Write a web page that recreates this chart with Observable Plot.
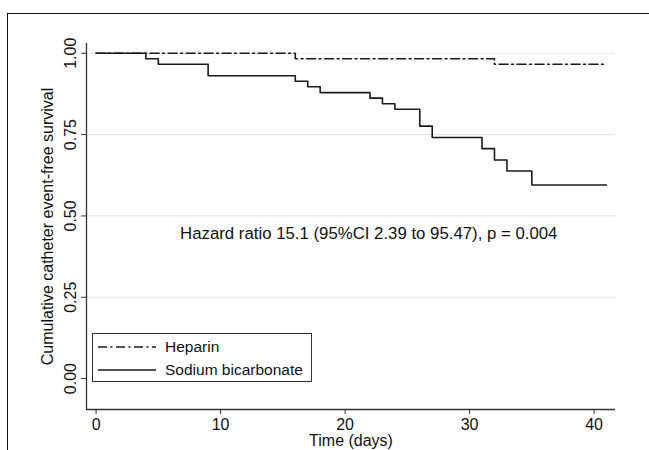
<!DOCTYPE html>
<html>
<head>
<meta charset="utf-8">
<script src="https://cdn.jsdelivr.net/npm/d3@7"></script>
<script src="https://cdn.jsdelivr.net/npm/@observablehq/plot@0.6"></script>
<style>
  html, body { margin: 0; padding: 0; background: #fff; }
  #wrap { position: relative; width: 649px; height: 450px; overflow: hidden; font-family: "Liberation Sans", Arial, sans-serif; }
  #frame { position: absolute; left: 7px; top: 13px; width: 800px; height: 600px; border: 1.5px solid #111; pointer-events: none; }
  #legend { position: absolute; left: 92px; top: 333px; width: 218px; height: 47px; border: 1.3px solid #333; background: #fff; font-size: 15.5px; color: #111; }
  #legend .row { position: absolute; left: 5px; height: 20px; display: flex; align-items: center; }
  #legend .row span { margin-left: 9px; }
  svg.plot { position: absolute; left: 0; top: 0; }
</style>
</head>
<body>
<div id="wrap">
  <div id="chart"></div>
  <div id="legend"></div>
  <div id="frame"></div>
</div>
<script>
// ---- data ----
const heparinTime = [0, 16, 32, 41];
const heparinSurv = [1.0, 0.983, 0.966, 0.966];

const sodiumTime = [0, 4, 5, 9, 16, 17, 18, 22, 23, 24, 26, 27, 31, 32, 33, 35, 41];
const sodiumSurv = [1.0, 0.983, 0.966, 0.931, 0.914, 0.897, 0.879, 0.862, 0.845, 0.828, 0.776, 0.741, 0.707, 0.672, 0.638, 0.595, 0.595];

const xTicks = [0, 10, 20, 30, 40];
const yTicks = [0, 0.25, 0.5, 0.75, 1];
const gridTicks = [0.25, 0.5, 0.75, 1];
const xDomain = [-0.77, 41.72];
const yDomain = [-0.095, 1.03];

const seriesNames = ["Heparin", "Sodium bicarbonate"];
const dashPatterns = ["9,3.5,2,3.5", null];

const annotation = [{ x: 21.9, y: 0.445, text: "Hazard ratio 15.1 (95%CI 2.39 to 95.47), p = 0.004" }];

const heparin = heparinTime.map((t, i) => ({ t, s: heparinSurv[i] }));
const sodium = sodiumTime.map((t, i) => ({ t, s: sodiumSurv[i] }));

const lineColor = "#1a1a1a";

const chart = Plot.plot({
  width: 649,
  height: 450,
  marginLeft: 86,
  marginRight: 34,
  marginTop: 43,
  marginBottom: 41,
  style: { fontFamily: "Liberation Sans, Arial, sans-serif", fontSize: "16px", color: "#111", background: "transparent" },
  x: { domain: xDomain },
  y: { domain: yDomain },
  marks: [
    Plot.gridY(gridTicks, { stroke: "#e6e6e6", strokeOpacity: 1, strokeWidth: 1.2 }),
    Plot.ruleX([xDomain[0]], { stroke: "#333", strokeWidth: 1.3 }),
    Plot.ruleY([yDomain[0]], { stroke: "#333", strokeWidth: 1.3 }),
    Plot.axisY(yTicks, {
      tickFormat: d3.format(".2f"),
      tickSize: 5,
      tickRotate: -90,
      tickPadding: 6,
      stroke: "#333",
      label: "Cumulative catheter event-free survival",
      labelAnchor: "center",
      labelArrow: "none",
      labelOffset: 45
    }),
    Plot.axisX(xTicks, {
      tickSize: 5,
      tickPadding: 4,
      stroke: "#333",
      label: "Time (days)",
      labelAnchor: "center",
      labelArrow: "none",
      labelOffset: 36
    }),
    Plot.line(heparin, { x: "t", y: "s", curve: "step-after", stroke: lineColor, strokeWidth: 1.6, strokeDasharray: dashPatterns[0] }),
    Plot.line(sodium, { x: "t", y: "s", curve: "step-after", stroke: lineColor, strokeWidth: 1.6 }),
    Plot.text(annotation, { x: "x", y: "y", text: "text", fontSize: 16.8, fill: "#111" })
  ]
});
document.getElementById("chart").appendChild(chart);

// legend (HTML, built from the series names)
const legend = document.getElementById("legend");
seriesNames.forEach((name, i) => {
  const row = document.createElement("div");
  row.className = "row";
  row.style.top = (3 + i * 23) + "px";
  const ns = "http://www.w3.org/2000/svg";
  const sw = document.createElementNS(ns, "svg");
  sw.setAttribute("width", "58");
  sw.setAttribute("height", "10");
  const ln = document.createElementNS(ns, "line");
  ln.setAttribute("x1", "0"); ln.setAttribute("x2", "58");
  ln.setAttribute("y1", "5"); ln.setAttribute("y2", "5");
  ln.setAttribute("stroke", lineColor);
  ln.setAttribute("stroke-width", "1.6");
  if (dashPatterns[i]) ln.setAttribute("stroke-dasharray", dashPatterns[i]);
  sw.appendChild(ln);
  const label = document.createElement("span");
  label.textContent = name;
  row.appendChild(sw);
  row.appendChild(label);
  legend.appendChild(row);
});
</script>
</body>
</html>
